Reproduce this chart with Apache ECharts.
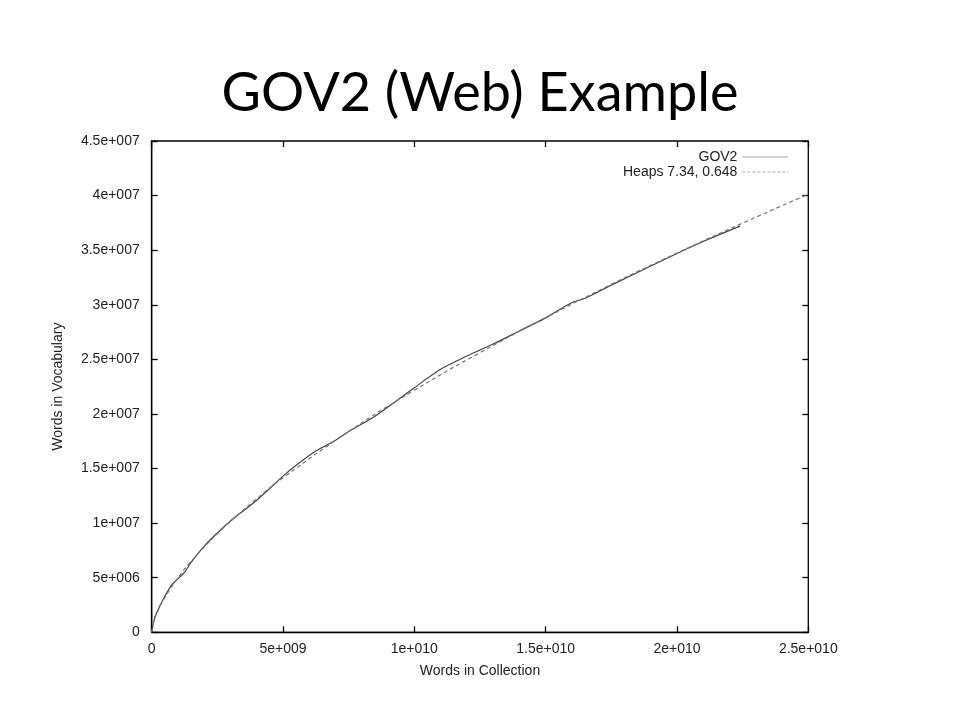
<!DOCTYPE html>
<html><head><meta charset="utf-8">
<script src="https://cdn.jsdelivr.net/npm/echarts@6/dist/echarts.min.js"></script>
<style>html,body{margin:0;padding:0;background:#fff}#c{width:960px;height:720px}</style>
</head><body><div id="c"></div>
<script>
const titleText = 'GOV2 (Web) Example';
const xName = 'Words in Collection';
const yName = 'Words in Vocabulary';

const gov2Words = [0, 1e8, 2.5e8, 5e8, 7.5e8, 1e9, 1.25e9, 1.5e9, 2e9, 2.5e9, 3e9, 4e9, 5e9, 5.5e9, 6.25e9, 7e9, 7.5e9, 8.5e9, 1e10, 1.1e10, 1.2e10, 1.3e10, 1.4e10, 1.5e10, 1.6e10, 1.65e10, 1.75e10, 2e10, 2.1e10, 2.24e10];
const gov2Vocab = [0, 1.2e6, 2.1e6, 3.3e6, 4.3e6, 4.9e6, 5.5e6, 6.4e6, 7.9e6, 9.1e6, 10.2e6, 12.1e6, 14.3e6, 15.3e6, 16.6e6, 17.6e6, 18.4e6, 19.8e6, 22.4e6, 24.1e6, 25.3e6, 26.4e6, 27.6e6, 28.8e6, 30.2e6, 30.6e6, 31.8e6, 34.7e6, 35.8e6, 37.2e6];

const heapsWords = [0, 1e8, 2.5e8, 5e8, 1e9, 1.5e9, 2e9, 2.5e9, 3e9, 4e9, 5e9, 7.5e9, 1e10, 1.25e10, 1.5e10, 1.75e10, 2e10, 2.25e10, 2.5e10];
const heapsVocab = [0, 1.12e6, 2.03e6, 3.18e6, 4.99e6, 6.49e6, 7.81e6, 9.03e6, 10.16e6, 12.24e6, 14.15e6, 18.39e6, 22.17e6, 25.61e6, 28.81e6, 31.87e6, 34.74e6, 37.48e6, 40.12e6];

const seriesNames = ['GOV2', 'Heaps 7.34, 0.648'];

function fmt(v) {
  if (v === 0) return '0';
  const s = v.toExponential();
  const m = s.split('e');
  const sign = m[1][0];
  const e = m[1].slice(1).padStart(3, '0');
  return m[0] + 'e' + sign + e;
}

const pair = (a, b) => a.map((x, i) => [x, b[i]]);

const chart = echarts.init(document.getElementById('c'), null, {renderer: 'canvas'});
const labelStyle = {color: '#222', fontFamily: 'Liberation Sans, Arial, sans-serif', fontSize: 14};
const tick = {show: true, inside: true, length: 6, lineStyle: {color: '#000', width: 1.3}};
chart.setOption({
  animation: false,
  backgroundColor: '#fff',
  title: {
    text: titleText, left: 'center', top: 62,
    textStyle: {fontFamily: 'Lato, "Open Sans", sans-serif', fontWeight: 'normal', fontSize: 54, color: '#000'}
  },
  grid: {left: 151.7, right: 151.7, top: 141, bottom: 87.7, show: true, borderColor: '#000', borderWidth: 1.3, containLabel: false},
  legend: {
    orient: 'vertical', right: 166, top: 145, align: 'right', itemGap: 1,
    itemWidth: 46, itemHeight: 12,
    itemStyle: {opacity: 0},
    textStyle: {color: '#222', fontFamily: 'Liberation Sans, Arial, sans-serif', fontSize: 14},
    data: [
      {name: seriesNames[0], lineStyle: {color: '#aaa', width: 1.2}},
      {name: seriesNames[1], lineStyle: {color: '#aaa', width: 1.2, type: [3, 2]}}
    ]
  },
  xAxis: [{
    type: 'value', min: 0, max: 2.5e10, interval: 5e9,
    name: xName, nameLocation: 'middle', nameGap: 32,
    nameTextStyle: labelStyle,
    axisLine: {show: true, onZero: false, lineStyle: {color: '#000', width: 1.3}},
    axisTick: tick,
    axisLabel: Object.assign({formatter: fmt, margin: 10}, labelStyle),
    splitLine: {show: false}
  }, {
    type: 'value', position: 'top', min: 0, max: 2.5e10, interval: 5e9,
    axisLine: {show: false, onZero: false},
    axisTick: tick,
    axisLabel: {show: false}, splitLine: {show: false}
  }],
  yAxis: [{
    type: 'value', min: 0, max: 4.5e7, interval: 5e6,
    name: yName, nameLocation: 'middle', nameGap: 87, nameRotate: 90,
    nameTextStyle: labelStyle,
    axisLine: {show: true, onZero: false, lineStyle: {color: '#000', width: 1.3}},
    axisTick: tick,
    axisLabel: Object.assign({formatter: fmt, margin: 12}, labelStyle),
    splitLine: {show: false}
  }, {
    type: 'value', position: 'right', min: 0, max: 4.5e7, interval: 5e6,
    axisLine: {show: false, onZero: false},
    axisTick: tick,
    axisLabel: {show: false}, splitLine: {show: false}
  }],
  series: [{
    name: seriesNames[0], type: 'line', symbol: 'none', smooth: 0.3,
    data: pair(gov2Words, gov2Vocab),
    lineStyle: {color: '#444', width: 1.2},
    itemStyle: {color: '#aaa'}
  }, {
    name: seriesNames[1], type: 'line', symbol: 'none', smooth: true,
    data: pair(heapsWords, heapsVocab),
    lineStyle: {color: '#777', width: 1.2, type: [4, 3]},
    itemStyle: {color: '#aaa'}
  }]
});
</script>
</body></html>
